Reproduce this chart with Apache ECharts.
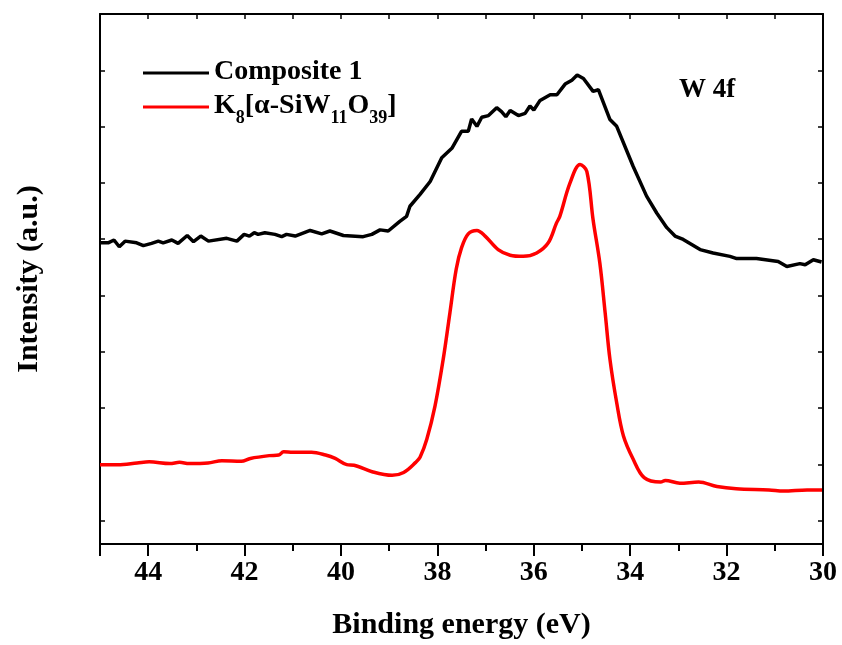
<!DOCTYPE html>
<html>
<head>
<meta charset="utf-8">
<script src="https://cdn.jsdelivr.net/npm/echarts@6/dist/echarts.min.js"></script>
<style>
  html, body { margin: 0; padding: 0; background: #fff; }
  #chart { width: 842px; height: 645px; }
</style>
</head>
<body>
<div id="chart"></div>
<script>
// binding energy (eV) and intensity (a.u.)
const compositeEnergy = [45.00, 44.83, 44.71, 44.60, 44.48, 44.24, 44.10, 43.93, 43.79, 43.69, 43.51, 43.38, 43.19, 43.06, 42.91, 42.75, 42.37, 42.16, 42.01, 41.90, 41.80, 41.72, 41.58, 41.37, 41.23, 41.13, 40.95, 40.64, 40.40, 40.23, 39.95, 39.54, 39.36, 39.19, 39.02, 38.98, 38.78, 38.64, 38.57, 38.36, 38.15, 37.91, 37.70, 37.50, 37.36, 37.29, 37.18, 37.08, 36.94, 36.77, 36.67, 36.58, 36.49, 36.32, 36.18, 36.08, 36.00, 35.87, 35.66, 35.52, 35.35, 35.21, 35.10, 34.97, 34.77, 34.66, 34.42, 34.28, 33.94, 33.66, 33.45, 33.24, 33.07, 32.90, 32.55, 32.28, 31.93, 31.79, 31.38, 30.93, 30.75, 30.48, 30.37, 30.20, 30.03];
const compositeIntensity = [5.35, 5.35, 5.40, 5.28, 5.38, 5.35, 5.30, 5.34, 5.38, 5.35, 5.40, 5.34, 5.48, 5.37, 5.47, 5.38, 5.43, 5.38, 5.50, 5.47, 5.53, 5.50, 5.53, 5.50, 5.46, 5.50, 5.47, 5.57, 5.51, 5.56, 5.48, 5.46, 5.50, 5.58, 5.56, 5.54, 5.73, 5.82, 6.00, 6.21, 6.44, 6.86, 7.03, 7.33, 7.33, 7.55, 7.42, 7.58, 7.61, 7.75, 7.68, 7.59, 7.70, 7.61, 7.65, 7.78, 7.71, 7.88, 7.98, 7.98, 8.17, 8.24, 8.33, 8.27, 8.04, 8.07, 7.54, 7.42, 6.71, 6.18, 5.88, 5.62, 5.47, 5.41, 5.23, 5.17, 5.11, 5.07, 5.07, 5.02, 4.93, 4.98, 4.96, 5.05, 5.01];

const polyEnergy = [45.00, 44.63, 44.23, 43.98, 43.55, 43.35, 43.15, 42.76, 42.47, 42.07, 41.88, 41.49, 41.29, 41.19, 41.00, 40.61, 40.32, 40.12, 39.88, 39.73, 39.34, 38.94, 38.70, 38.45, 38.36, 38.22, 38.05, 37.88, 37.74, 37.61, 37.50, 37.36, 37.18, 37.01, 36.74, 36.49, 36.22, 35.94, 35.70, 35.53, 35.46, 35.25, 35.04, 34.90, 34.77, 34.63, 34.52, 34.42, 34.28, 34.14, 33.94, 33.71, 33.37, 33.27, 32.97, 32.58, 32.20, 31.80, 31.12, 30.82, 30.33, 30.02];
const polyIntensity = [1.41, 1.41, 1.44, 1.46, 1.43, 1.45, 1.43, 1.44, 1.48, 1.47, 1.52, 1.57, 1.58, 1.64, 1.63, 1.63, 1.58, 1.52, 1.41, 1.40, 1.28, 1.22, 1.27, 1.45, 1.54, 1.86, 2.45, 3.28, 4.11, 4.88, 5.26, 5.51, 5.57, 5.47, 5.23, 5.13, 5.11, 5.17, 5.35, 5.70, 5.82, 6.41, 6.74, 6.62, 5.76, 4.99, 4.11, 3.28, 2.51, 1.92, 1.51, 1.18, 1.10, 1.13, 1.08, 1.10, 1.02, 0.98, 0.96, 0.94, 0.96, 0.96];

const xTicks = [44, 42, 40, 38, 36, 34, 32, 30];
const seriesNames = ['Composite 1', 'K8[α-SiW11O39]'];

const chart = echarts.init(document.getElementById('chart'));
const font = "'Liberation Serif', 'Times New Roman', serif";

const yMax = 9.415;

const option = {
  animation: false,
  textStyle: { fontFamily: font, fontWeight: 'bold', color: '#000' },
  title: {
    text: 'W 4f',
    left: 674,
    top: 72,
    textStyle: { fontFamily: font, fontWeight: 'bold', fontSize: 27, color: '#000' }
  },
  legend: {
    orient: 'vertical',
    left: 138,
    top: 53,
    itemWidth: 66,
    itemHeight: 3,
    itemGap: 6,
    icon: 'rect',
    data: seriesNames,
    formatter: function (name) {
      if (name === seriesNames[1]) {
        return '{n|K}{s|8}{n|[α-SiW}{s|11}{n|O}{s|39}{n|]}';
      }
      return '{n|' + name + '}';
    },
    textStyle: {
      fontFamily: font,
      fontWeight: 'bold',
      color: '#000',
      rich: {
        n: { fontFamily: font, fontWeight: 'bold', fontSize: 28, lineHeight: 30, verticalAlign: 'top', color: '#000' },
        s: { fontFamily: font, fontWeight: 'bold', fontSize: 18, lineHeight: 18, padding: [17, 0, 0, 0], verticalAlign: 'top', color: '#000' }
      }
    }
  },
  grid: { left: 100, right: 19, top: 14, bottom: 100 },
  xAxis: [
    {
      type: 'value',
      inverse: true,
      min: 30,
      max: 45,
      interval: 2,
      position: 'bottom',
      name: 'Binding energy (eV)',
      nameLocation: 'middle',
      nameGap: 66,
      nameTextStyle: { fontFamily: font, fontWeight: 'bold', fontSize: 30, color: '#000' },
      axisLine: { lineStyle: { color: '#000', width: 2 } },
      axisTick: { inside: false, length: 12, lineStyle: { color: '#000', width: 2 } },
      minorTick: { show: true, splitNumber: 2, length: 7, lineStyle: { color: '#000', width: 2 } },
      axisLabel: {
        margin: 15,
        fontFamily: font,
        fontWeight: 'bold',
        fontSize: 28,
        color: '#000',
        formatter: v => (xTicks.indexOf(v) >= 0 ? String(v) : '')
      },
      splitLine: { show: false }
    },
    {
      type: 'value',
      inverse: true,
      min: 30,
      max: 45,
      interval: 1,
      position: 'top',
      axisLine: { lineStyle: { color: '#000', width: 2 } },
      axisTick: { inside: true, length: 5, lineStyle: { color: '#000', width: 1.5 } },
      axisLabel: { show: false },
      splitLine: { show: false }
    }
  ],
  yAxis: [
    {
      type: 'value',
      min: 0,
      max: yMax,
      position: 'left',
      name: 'Intensity (a.u.)',
      nameLocation: 'middle',
      nameGap: 56,
      nameTextStyle: { fontFamily: font, fontWeight: 'bold', fontSize: 30, color: '#000' },
      axisLine: { show: true, lineStyle: { color: '#000', width: 2 } },
      axisTick: { show: false },
      axisLabel: { show: false },
      splitLine: { show: false }
    },
    {
      type: 'value',
      inverse: true,
      min: 0,
      max: yMax,
      interval: 1,
      position: 'left',
      axisLine: { show: false },
      axisTick: { inside: true, length: 5, lineStyle: { color: '#000', width: 1.5 } },
      axisLabel: { show: false },
      splitLine: { show: false }
    },
    {
      type: 'value',
      inverse: true,
      min: 0,
      max: yMax,
      interval: 1,
      position: 'right',
      axisLine: { show: true, lineStyle: { color: '#000', width: 2 } },
      axisTick: { inside: true, length: 5, lineStyle: { color: '#000', width: 1.5 } },
      axisLabel: { show: false },
      splitLine: { show: false }
    }
  ],
  series: [
    {
      name: seriesNames[0],
      type: 'line',
      xAxisIndex: 0,
      yAxisIndex: 0,
      showSymbol: false,
      color: '#000',
      lineStyle: { color: '#000', width: 3.5 },
      data: compositeEnergy.map((e, i) => [e, compositeIntensity[i]])
    },
    {
      name: seriesNames[1],
      type: 'line',
      xAxisIndex: 0,
      yAxisIndex: 0,
      showSymbol: false,
      smooth: 0.35,
      color: '#ff0000',
      lineStyle: { color: '#ff0000', width: 3.5 },
      data: polyEnergy.map((e, i) => [e, polyIntensity[i]])
    }
  ]
};

chart.setOption(option);
</script>
</body>
</html>
